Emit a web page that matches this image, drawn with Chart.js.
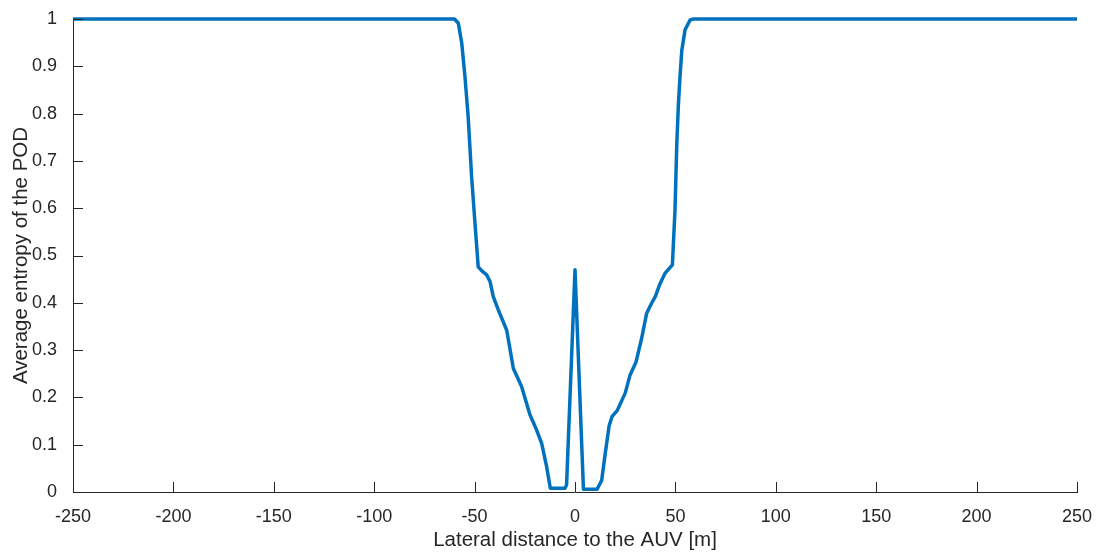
<!DOCTYPE html>
<html>
<head>
<meta charset="utf-8">
<script src="https://cdn.jsdelivr.net/npm/chart.js@4.4.1/dist/chart.umd.min.js"></script>
<style>
  html, body { margin: 0; padding: 0; background: #fff; }
  #wrap { width: 1097px; height: 554px; position: relative; }
</style>
</head>
<body>
<div id="wrap"><canvas id="entropyChart"></canvas></div>
<script>
// lateral offset [m] and average POD entropy
const lateralDist = [
  -250, -60, -58.1, -56.4, -54.8, -53.2, -51.5, -49.8, -48.2, -46.5, -44, -42.3,
  -40.7, -38.2, -34, -30.7, -26.6, -22.4, -19.1, -16.6, -14.1, -12.3, -5, -4.2,
  0, 4.2, 11, 12.5, 13.3, 15, 17, 18.5, 21, 25, 27.4, 30.4, 33.2, 35.7, 38, 40,
  42.4, 44.8, 48.5, 49.8, 50.7, 51.5, 52.3, 53.2, 54.8, 57.3, 59, 250
];
const avgEntropy = [
  1, 1, 0.991, 0.949, 0.878, 0.793, 0.667, 0.568, 0.476, 0.468, 0.459, 0.445,
  0.413, 0.385, 0.342, 0.261, 0.223, 0.163, 0.131, 0.103, 0.053, 0.008, 0.008, 0.015,
  0.47, 0.006, 0.006, 0.018, 0.025, 0.08, 0.14, 0.16, 0.172, 0.209, 0.247, 0.275, 0.325, 0.378, 0.398, 0.413,
  0.441, 0.462, 0.48, 0.596, 0.737, 0.82, 0.878, 0.934, 0.977, 0.998, 1, 1
];
const xTicks = [-250, -200, -150, -100, -50, 0, 50, 100, 150, 200, 250];
const yTicks = [0, 0.1, 0.2, 0.3, 0.4, 0.5, 0.6, 0.7, 0.8, 0.9, 1];

const axisColor = "#262626";
const fontFamily = "'Liberation Sans', Arial, Helvetica, sans-serif";

// MATLAB style ticks pointing into the plot
const inwardTicks = {
  id: "inwardTicks",
  afterDatasetsDraw(chart) {
    const { ctx, chartArea, scales } = chart;
    ctx.save();
    ctx.strokeStyle = axisColor;
    ctx.lineWidth = 1;
    ctx.beginPath();
    xTicks.forEach(v => {
      const px = Math.round(scales.x.getPixelForValue(v)) + 0.5;
      ctx.moveTo(px, chartArea.bottom);
      ctx.lineTo(px, chartArea.bottom - 10);
    });
    yTicks.forEach(v => {
      const py = Math.round(scales.y.getPixelForValue(v)) + 0.5;
      ctx.moveTo(chartArea.left, py);
      ctx.lineTo(chartArea.left + 10, py);
    });
    ctx.stroke();
    ctx.restore();
  }
};

new Chart(document.getElementById("entropyChart"), {
  type: "line",
  data: {
    datasets: [{
      data: lateralDist.map((x, i) => ({ x: x, y: avgEntropy[i] })),
      borderColor: "#0072BD",
      borderWidth: 3.5,
      pointRadius: 0,
      tension: 0,
      borderJoinStyle: "round",
      clip: false
    }]
  },
  options: {
    responsive: true,
    maintainAspectRatio: false,
    animation: false,
    layout: {
      padding: { top: 19, right: 20, left: 0, bottom: 0 }
    },
    scales: {
      x: {
        type: "linear",
        min: -250,
        max: 250,
        afterBuildTicks: s => { s.ticks = xTicks.map(v => ({ value: v })); },
        afterFit: s => { s.height = 62; s.paddingLeft = 0; s.paddingRight = 0; },
        grid: { drawOnChartArea: false, drawTicks: false },
        border: { display: true, color: axisColor, width: 1 },
        ticks: {
          color: axisColor,
          padding: 14,
          maxRotation: 0,
          font: { family: fontFamily, size: 18 }
        },
        title: {
          display: true,
          text: "Lateral distance to the AUV [m]",
          color: axisColor,
          padding: { top: 0, bottom: 1 },
          font: { family: fontFamily, size: 20.5 }
        }
      },
      y: {
        min: 0,
        max: 1,
        afterBuildTicks: s => { s.ticks = yTicks.map(v => ({ value: v })); },
        afterFit: s => { s.width = 73; s.paddingTop = 0; s.paddingBottom = 0; },
        grid: { drawOnChartArea: false, drawTicks: false },
        border: { display: true, color: axisColor, width: 1 },
        ticks: {
          color: axisColor,
          padding: 16,
          font: { family: fontFamily, size: 18 },
          callback: v => String(+v.toFixed(1))
        },
        title: {
          display: true,
          text: "Average entropy of the POD",
          color: axisColor,
          padding: { top: 9, bottom: 0 },
          font: { family: fontFamily, size: 20.5 }
        }
      }
    },
    plugins: {
      legend: { display: false },
      tooltip: { enabled: false }
    }
  },
  plugins: [inwardTicks]
});
</script>
</body>
</html>
